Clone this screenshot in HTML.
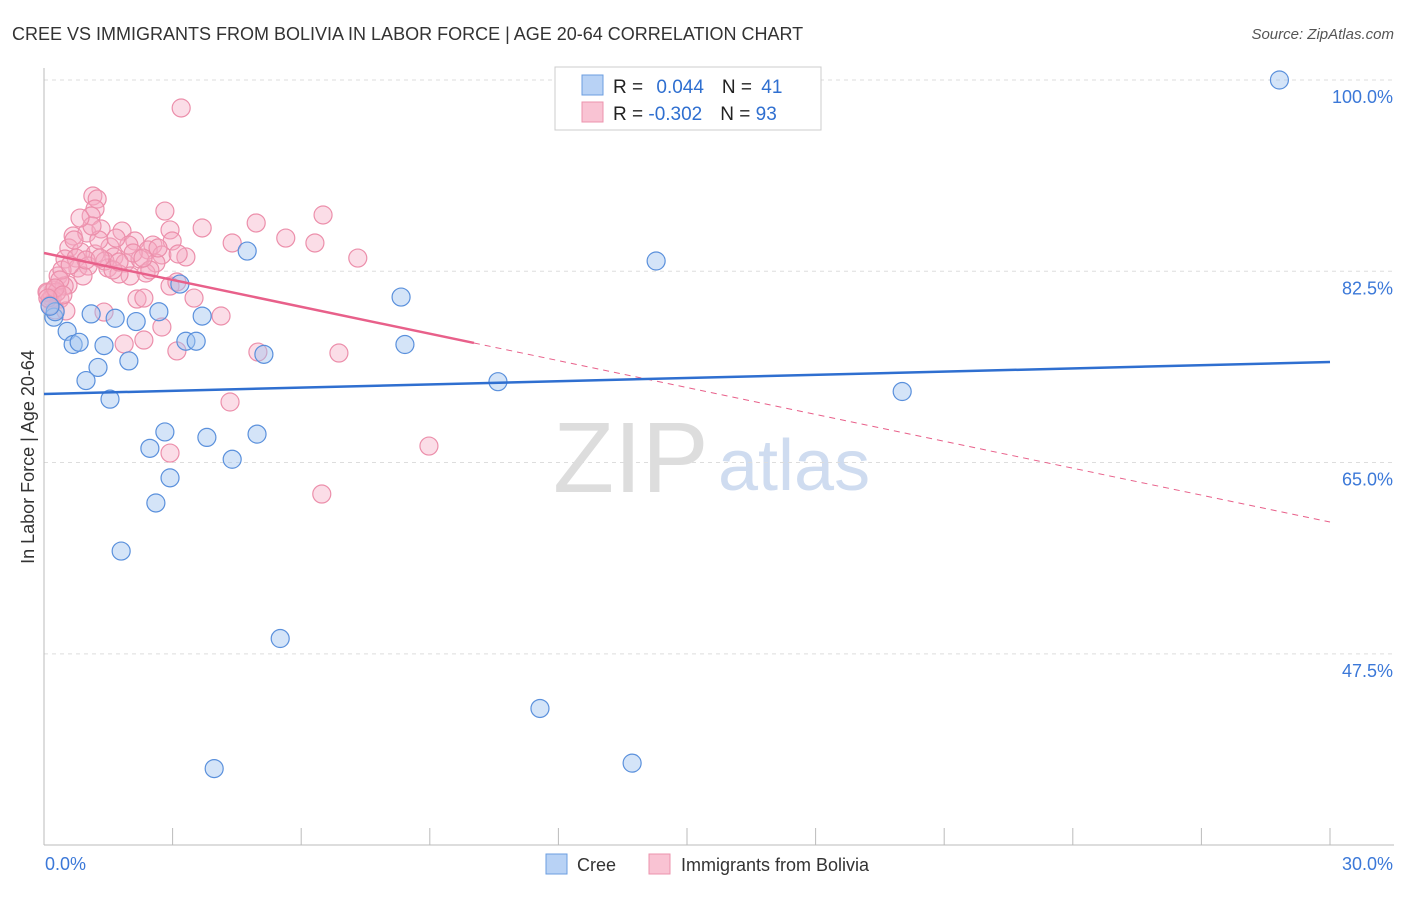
<!DOCTYPE html>
<html><head><meta charset="utf-8"><style>
body{margin:0;background:#fff;font-family:"Liberation Sans",sans-serif;}
svg text{font-family:"Liberation Sans",sans-serif;}
</style></head><body>
<svg width="1406" height="892" xmlns="http://www.w3.org/2000/svg">
<text x="12" y="40" font-size="18" fill="#333">CREE VS IMMIGRANTS FROM BOLIVIA IN LABOR FORCE | AGE 20-64 CORRELATION CHART</text>
<text x="1394" y="39" font-size="15" fill="#555" font-style="italic" text-anchor="end">Source: ZipAtlas.com</text>
<g>
<text x="553" y="492" font-size="100" fill="#ddd" font-family="Liberation Serif, serif">ZIP</text>
<text x="718" y="490" font-size="72" fill="#cfdcf0">atlas</text>
</g>
<g id="grid"></g>
<g id="axes"></g>
<g id="marks"></g>
<g>
<rect x="555" y="67" width="266" height="63" fill="#fff" stroke="#ccc"/>
<rect x="582" y="75" width="21" height="20" fill="#b8d2f5" stroke="#6b9ee0"/>
<rect x="582" y="102" width="21" height="20" fill="#f9c3d3" stroke="#ec93ae"/>
<text x="613" y="93" font-size="19" fill="#222">R = <tspan fill="#2f6fd0" dx="8">0.044</tspan><tspan dx="18" fill="#222">N = </tspan><tspan fill="#2f6fd0" dx="4">41</tspan></text>
<text x="613" y="120" font-size="19" fill="#222">R = <tspan fill="#2f6fd0">-0.302</tspan><tspan dx="18" fill="#222">N = </tspan><tspan fill="#2f6fd0">93</tspan></text>
</g>
<g>
<rect x="546" y="854" width="21" height="20" fill="#b8d2f5" stroke="#6b9ee0"/>
<text x="577" y="871" font-size="18" fill="#333">Cree</text>
<rect x="649" y="854" width="21" height="20" fill="#f9c3d3" stroke="#ec93ae"/>
<text x="681" y="871" font-size="18" fill="#333">Immigrants from Bolivia</text>
</g>
<text transform="translate(34,457) rotate(-90)" font-size="18" fill="#333" text-anchor="middle">In Labor Force | Age 20-64</text>
</svg>
<script>
const yTicks=[100,82.5,65,47.5];
const yTickLabels=["100.0%","82.5%","65.0%","47.5%"];
const xTickLabels=["0.0%","30.0%"];
const creeX=[28.82,4.74,14.28,8.33,3.17,0.23,1.10,1.66,2.15,2.68,3.69,0.54,0.68,0.82,1.40,3.31,3.55,5.13,8.42,1.98,1.26,0.98,10.59,20.02,1.54,2.82,3.80,4.97,2.47,4.39,2.94,2.61,1.80,5.51,11.57,13.72,3.97,0.26,0.14];
const creeY=[100,84.35,83.44,80.14,81.33,78.3,78.6,78.2,77.9,78.8,78.4,77.0,75.8,76.0,75.7,76.1,76.1,74.9,75.8,74.3,73.7,72.5,72.4,71.5,70.8,67.8,67.3,67.6,66.3,65.3,63.6,61.3,56.9,48.9,42.5,37.5,37.0,78.8,79.3];
const boliviaPx=[[181,108],[93,196],[97,199],[95,209],[91,216],[165,211],[323,215],[256,223],[202,228],[170,230],[73,236],[87,233],[101,229],[122,231],[286,238],[232,243],[315,243],[153,245],[172,241],[135,241],[69,248],[81,252],[110,247],[129,245],[148,250],[162,255],[186,257],[358,258],[65,259],[76,258],[95,254],[114,257],[125,263],[140,259],[156,263],[78,268],[88,266],[108,268],[146,273],[130,276],[119,274],[58,276],[68,285],[54,290],[48,293],[52,298],[60,299],[64,286],[170,286],[177,282],[194,298],[137,299],[144,298],[104,312],[55,310],[66,311],[221,316],[162,327],[144,340],[124,344],[177,351],[258,352],[339,353],[230,402],[170,453],[429,446],[322,494],[50,300],[47,292],[57,292],[83,276],[99,240],[116,238],[133,253],[105,261],[86,260],[150,270],[62,270],[92,226],[80,218],[74,240],[113,270],[158,248],[143,258],[178,254],[50,305],[60,280],[100,258],[119,262],[70,265],[55,288],[63,295],[48,298]];
const boliviaX=boliviaPx.map(p=>+((p[0]-44)/42.87).toFixed(2));
const boliviaY=boliviaPx.map(p=>+(100-(p[1]-80)/10.93).toFixed(2));
const creeTrend=[71.27,74.2];
const boliviaTrend=[84.17,59.56];
const boliviaSolidEnd=10.03;

const X0=44,X1=1330,Y100=80,PXPER=10.93;
const xs=v=>X0+v/30*(X1-X0);
const ys=v=>Y100+(100-v)*PXPER;
const NS="http://www.w3.org/2000/svg";
function mk(tag,attrs,parent){const e=document.createElementNS(NS,tag);for(const k in attrs)e.setAttribute(k,attrs[k]);document.getElementById(parent).appendChild(e);return e;}
yTicks.forEach((t,i)=>{
 const g=mk('line',{x1:X0,x2:1394,y1:ys(t),y2:ys(t),stroke:'#ddd','stroke-dasharray':'4,4'},'grid');
 
 
 const l=mk('text',{x:1393,y:ys(t)+23,'font-size':18,fill:'#3b78d8','text-anchor':'end'},'grid');
 l.textContent=yTickLabels[i];
 
 
});
const ax=mk('line',{x1:X0,x2:X0,y1:68,y2:845,stroke:'#bbb'},'axes');


const bx=mk('line',{x1:X0,x2:1394,y1:845,y2:845,stroke:'#bbb'},'axes');


for(let i=1;i<=10;i++){
 const t=mk('line',{x1:xs(i*3),x2:xs(i*3),y1:828,y2:845,stroke:'#bbb'},'axes');
 
 
}
const xl0=mk('text',{x:45,y:870,'font-size':18,fill:'#3b78d8'},'axes');xl0.textContent=xTickLabels[0];


const xl1=mk('text',{x:1393,y:870,'font-size':18,fill:'#3b78d8','text-anchor':'end'},'axes');xl1.textContent=xTickLabels[1];



boliviaX.forEach((x,i)=>{
 const c=mk('circle',{cx:xs(x),cy:ys(boliviaY[i]),r:9,fill:'rgba(246,170,196,0.4)',stroke:'#ec8fab','stroke-width':1.2},'marks');
 
 
});
creeX.forEach((x,i)=>{
 const c=mk('circle',{cx:xs(x),cy:ys(creeY[i]),r:9,fill:'rgba(160,196,240,0.45)',stroke:'#5a90dc','stroke-width':1.2},'marks');
 
 
});
const bt=v=>boliviaTrend[0]+(boliviaTrend[1]-boliviaTrend[0])*v/30;
const ps=mk('line',{x1:xs(0),y1:ys(bt(0)),x2:xs(boliviaSolidEnd),y2:ys(bt(boliviaSolidEnd)),stroke:'#e8608a','stroke-width':2.5},'marks');


const pd=mk('line',{x1:xs(boliviaSolidEnd),y1:ys(bt(boliviaSolidEnd)),x2:xs(30),y2:ys(bt(30)),stroke:'#e8608a','stroke-width':1,'stroke-dasharray':'6,5'},'marks');


const cl=mk('line',{x1:xs(0),y1:ys(creeTrend[0]),x2:xs(30),y2:ys(creeTrend[1]),stroke:'#2f6fd0','stroke-width':2.5},'marks');


</script>
</body></html>
